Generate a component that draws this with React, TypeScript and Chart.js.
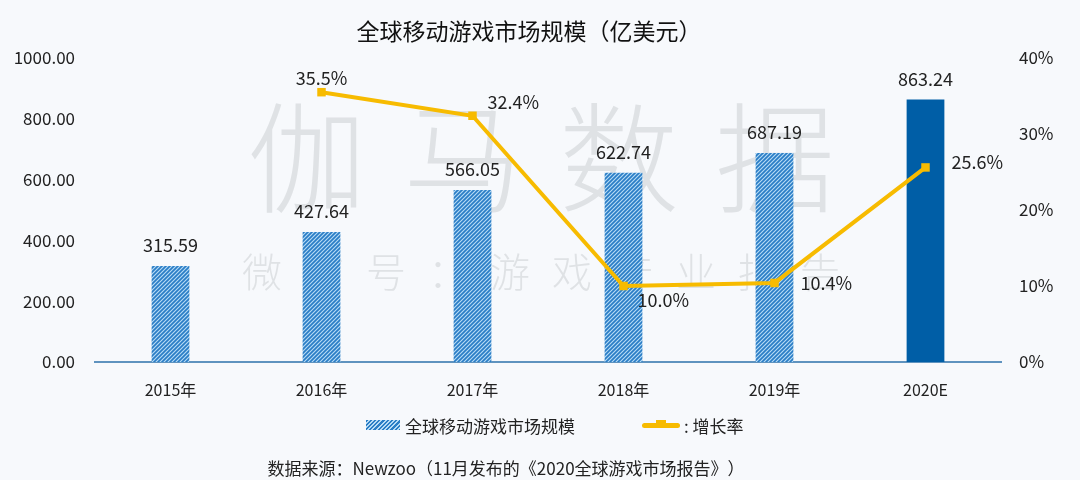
import React, { useEffect, useRef } from "react";
import { Chart, registerables } from "chart.js";

Chart.register(...registerables);

const categories = ["2015年", "2016年", "2017年", "2018年", "2019年", "2020E"];
const marketSize = [315.59, 427.64, 566.05, 622.74, 687.19, 863.24];
const growthRate = [null, 35.5, 32.4, 10.0, 10.4, 25.6];
const leftTicks = [0, 200, 400, 600, 800, 1000];
const rightTicks = [0, 10, 20, 30, 40];

const TITLE = "全球移动游戏市场规模（亿美元）";
const SOURCE = "数据来源：Newzoo（11月发布的《2020全球游戏市场报告》）";
const BAR_NAME = "全球移动游戏市场规模";
const LINE_NAME = "增长率";
const WATERMARK_BIG = "伽马数据";
const WATERMARK_SMALL = "微信号：游戏产业报告";

const FONT = "'Noto Sans CJK SC', 'Noto Sans', sans-serif";
const BG = "#f7f9fc";
const BLUE = "#005ea6";
const YELLOW = "#f7bb00";
const STRIPE = "#2a7dc6";
const STRIPE_BG = "#b6dbf5";

// label placement for growth labels: [dx, dy, align]
const LINE_LABEL_STYLE: Array<[number, number, CanvasTextAlign]> = [
  [0, 0, "center"],
  [0, -14, "center"],
  [15, -14, "left"],
  [14, 14, "left"],
  [26, 0, "left"],
  [26, -5, "left"],
];

function makeHatch(): CanvasPattern | string {
  const c = document.createElement("canvas");
  const s = 4;
  c.width = s;
  c.height = s;
  const g = c.getContext("2d");
  if (!g) return STRIPE;
  g.fillStyle = STRIPE_BG;
  g.fillRect(0, 0, s, s);
  g.strokeStyle = STRIPE;
  g.lineWidth = 1.7;
  g.beginPath();
  g.moveTo(-s / 2, s / 2);
  g.lineTo(s / 2, -s / 2);
  g.moveTo(0, s);
  g.lineTo(s, 0);
  g.moveTo(s / 2, s * 1.5);
  g.lineTo(s * 1.5, s / 2);
  g.stroke();
  const p = g.createPattern(c, "repeat");
  return p || STRIPE;
}

export default function App() {
  const ref = useRef<HTMLCanvasElement | null>(null);

  useEffect(() => {
    if (!ref.current) return;
    const hatch = makeHatch();
    const barColors = marketSize.map((_, i) => (i === marketSize.length - 1 ? BLUE : hatch));

    const watermark = {
      id: "watermark",
      beforeDatasetsDraw(chart: any) {
        const ctx = chart.ctx;
        ctx.save();
        ctx.fillStyle = "rgba(140,145,150,0.22)";
        ctx.textAlign = "center";
        ctx.textBaseline = "middle";
        ctx.font = `300 120px ${FONT}`;
        const big = Array.from(WATERMARK_BIG);
        const bigStep = 156;
        const cx = 541;
        big.forEach((ch, i) => {
          ctx.fillText(ch, cx + (i - (big.length - 1) / 2) * bigStep, 158);
        });
        ctx.font = `300 40px ${FONT}`;
        const small = Array.from(WATERMARK_SMALL);
        const smallStep = 62;
        small.forEach((ch, i) => {
          ctx.fillText(ch, cx + (i - (small.length - 1) / 2) * smallStep, 272);
        });
        ctx.restore();
      },
    };

    const labels = {
      id: "valueLabels",
      afterDatasetsDraw(chart: any) {
        const ctx = chart.ctx;
        ctx.save();
        ctx.fillStyle = "#222";
        ctx.font = `18px ${FONT}`;
        const barMeta = chart.getDatasetMeta(0);
        barMeta.data.forEach((el: any, i: number) => {
          ctx.textAlign = "center";
          ctx.textBaseline = "alphabetic";
          ctx.fillText(marketSize[i].toFixed(2), el.x, el.y - 14);
        });
        const lineMeta = chart.getDatasetMeta(1);
        lineMeta.data.forEach((el: any, i: number) => {
          const v = growthRate[i];
          if (v === null || v === undefined) return;
          const [dx, dy, align] = LINE_LABEL_STYLE[i];
          ctx.textAlign = align;
          ctx.textBaseline = "middle";
          ctx.fillText(v.toFixed(1) + "%", el.x + dx, el.y + dy);
        });
        ctx.restore();
      },
    };

    const bgPlugin = {
      id: "bg",
      beforeDraw(chart: any) {
        const ctx = chart.ctx;
        ctx.save();
        ctx.fillStyle = BG;
        ctx.fillRect(0, 0, chart.width, chart.height);
        ctx.restore();
      },
    };

    const chart = new Chart(ref.current, {
      data: {
        labels: categories,
        datasets: [
          {
            type: "bar",
            label: BAR_NAME,
            data: marketSize,
            backgroundColor: barColors as any,
            borderWidth: 0,
            yAxisID: "y",
            barPercentage: 0.5,
            categoryPercentage: 0.5,
            order: 2,
          },
          {
            type: "line",
            label: LINE_NAME,
            data: growthRate as any,
            borderColor: YELLOW,
            backgroundColor: YELLOW,
            borderWidth: 4,
            pointStyle: "rect",
            pointRadius: 6,
            pointBackgroundColor: YELLOW,
            pointBorderWidth: 0,
            spanGaps: false,
            yAxisID: "y1",
            order: 1,
          },
        ],
      },
      options: {
        animation: false,
        responsive: false,
        maintainAspectRatio: false,
        layout: { padding: { top: 58, left: 0, right: 0, bottom: 0 } },
        plugins: {
          legend: { display: false },
          title: { display: false },
          tooltip: { enabled: false },
        },
        scales: {
          x: {
            grid: { display: false, drawTicks: false },
            border: { display: true, color: "#5f93bf", width: 2 },
            ticks: {
              color: "#222",
              font: { family: FONT, size: 16 },
              padding: 18,
              maxRotation: 0,
            },
            afterFit(scale: any) {
              scale.height = 118;
            },
          },
          y: {
            position: "left",
            min: 0,
            max: 1000,
            grid: { display: false, drawTicks: false },
            border: { display: false },
            afterBuildTicks(scale: any) {
              scale.ticks = leftTicks.map((v) => ({ value: v }));
            },
            ticks: {
              color: "#222",
              font: { family: FONT, size: 17 },
              padding: 20,
              callback: (v: any) => Number(v).toFixed(2),
            },
            afterFit(scale: any) {
              scale.width = 95;
            },
          },
          y1: {
            position: "right",
            min: 0,
            max: 40,
            grid: { display: false, drawTicks: false },
            border: { display: false },
            afterBuildTicks(scale: any) {
              scale.ticks = rightTicks.map((v) => ({ value: v }));
            },
            ticks: {
              color: "#222",
              font: { family: FONT, size: 17 },
              padding: 18,
              callback: (v: any) => v + "%",
            },
            afterFit(scale: any) {
              scale.width = 79;
            },
          },
        },
      } as any,
      plugins: [bgPlugin, watermark, labels],
    });
    return () => chart.destroy();
  }, []);

  const hatchCss = `repeating-linear-gradient(135deg, ${STRIPE} 0px, ${STRIPE} 1.6px, ${STRIPE_BG} 1.6px, ${STRIPE_BG} 3px)`;

  return (
    <div
      style={{
        position: "absolute",
        left: 0,
        top: 0,
        width: 1080,
        height: 480,
        background: BG,
        fontFamily: FONT,
        overflow: "hidden",
      }}
    >
      <canvas ref={ref} width={1080} height={480} style={{ position: "absolute", left: 0, top: 0 }} />
      <div
        style={{
          position: "absolute",
          top: 14,
          left: 0,
          width: 1058,
          textAlign: "center",
          fontSize: 23,
          lineHeight: "32px",
          color: "#111",
          fontWeight: 400,
          ["textSpacingTrim" as any]: "space-all",
        }}
      >
        {TITLE}
      </div>
      <div
        style={{
          position: "absolute",
          top: 413,
          left: 366,
          height: 24,
          display: "flex",
          alignItems: "center",
          fontSize: 17,
          color: "#222",
        }}
      >
        <span style={{ display: "inline-block", width: 34, height: 10, background: hatchCss, marginRight: 5 }} />
        <span>{BAR_NAME}</span>
      </div>
      <div
        style={{
          position: "absolute",
          top: 413,
          left: 642,
          height: 24,
          display: "flex",
          alignItems: "center",
          fontSize: 17,
          color: "#222",
        }}
      >
        <span style={{ position: "relative", display: "inline-block", width: 38, height: 12 }}>
          <span style={{ position: "absolute", left: 0, top: 4, width: 38, height: 5, background: YELLOW, borderRadius: 2.5 }} />
          <span style={{ position: "absolute", left: 14, top: 1, width: 10, height: 8, background: YELLOW }} />
        </span>
        <span style={{ marginLeft: 4 }}>{": " + LINE_NAME}</span>
      </div>
      <div
        style={{
          position: "absolute",
          top: 456,
          left: 0,
          width: 1012,
          textAlign: "center",
          fontSize: 17,
          lineHeight: "24px",
          color: "#222",
          ["textSpacingTrim" as any]: "space-all",
        }}
      >
        {SOURCE}
      </div>
    </div>
  );
}
